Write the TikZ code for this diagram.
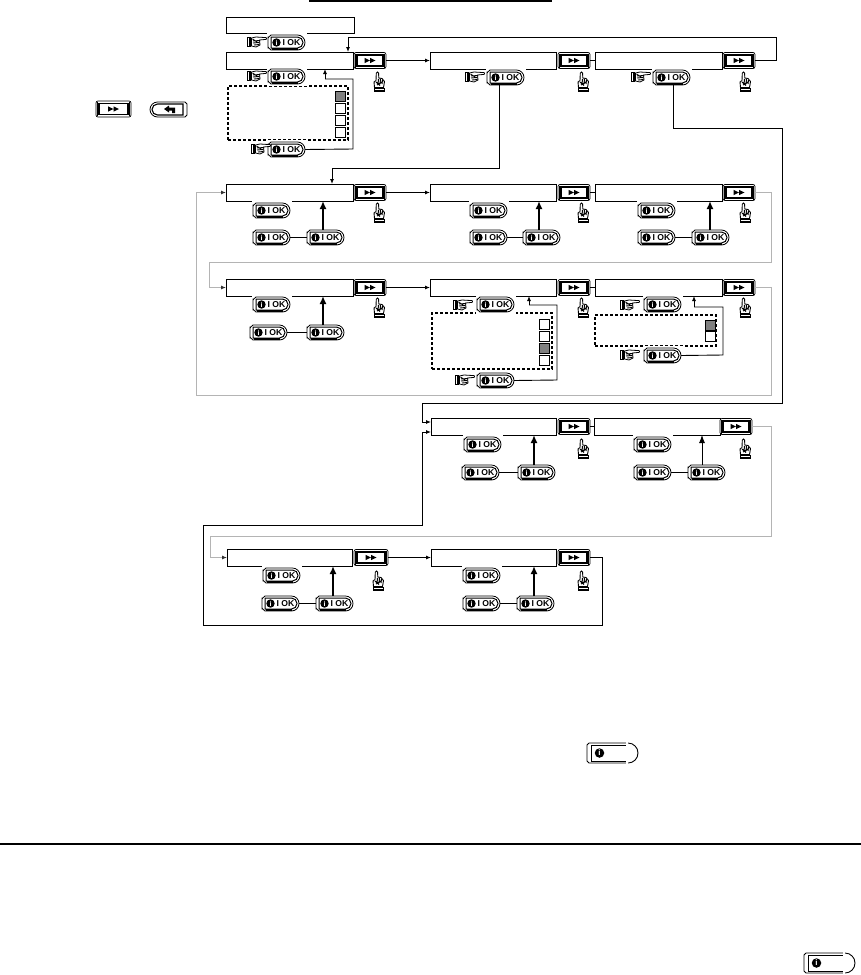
\documentclass[tikz,border=0pt]{standalone}
\usepackage{fontspec}
\setmainfont{Liberation Sans}
\usetikzlibrary{arrows.meta,calc}
\definecolor{greyline}{HTML}{B4B4B4}
\definecolor{tick}{HTML}{808080}
\tikzset{
  lcd/.style={draw=black,line width=.9pt,fill=white,inner sep=0pt,outer sep=0pt},
  btnshell/.style={inner sep=0pt,outer sep=0pt,minimum width=37pt,minimum height=15pt},
  ffshell/.style={inner sep=0pt,outer sep=0pt},
  infocirc/.style={circle,fill=black,text=white,inner sep=0pt,minimum size=8.4pt,font=\bfseries\fontsize{7}{7}\selectfont},
  oktext/.style={inner sep=0pt,font=\bfseries\fontsize{8.6}{9}\selectfont},
  flow/.style={line width=.9pt,-{Latex[length=5pt,width=4pt]}},
  flowgarrow/.style={line width=.9pt,draw=greyline,-{Latex[length=5pt,width=4pt,color=black!80]}},
  link/.style={line width=.9pt},
  thicklink/.style={line width=1.6pt},
  press/.style={line width=1.7pt,-{Latex[length=8pt,width=7pt]}},
  pressthin/.style={line width=.9pt,-{Latex[length=8pt,width=6pt]}},
  dashbox/.style={draw=black,line width=1.2pt,dash pattern=on 3pt off 2pt},
  tickbox/.style={draw=black,line width=.6pt,fill=white,inner sep=0pt,outer sep=0pt,minimum size=9.6pt},
  tickon/.style={tickbox,fill=tick},
}
% LCD box
\newcommand\lcdbox[5]{\node[lcd,minimum width={(#4-#2)*1pt},minimum height={(#5-#3)*1pt}] (#1) at ({(#2+#4)/2},{(#3+#5)/2}) {};}
% i | OK button: name, left, top
\newcommand\okb[3]{%
 \begin{scope}[shift={(#2+18.5,#3+7.5)}]
  \fill[white] (-20,-9.5) rectangle (20,9.5);
  \node[btnshell] (#1) at (0,0) {};
  \draw[line width=.8pt] (-15.5,-7.5) -- (11,-7.5) arc[start angle=-90,end angle=90,radius=7.5] -- (-15.5,7.5) to[out=180,in=90] (-18.5,5) -- (-18.5,-5) to[out=-90,in=180] (-15.5,-7.5);
  \draw[line width=1pt] (-15.5,-5.5) -- (11,-5.5) arc[start angle=-90,end angle=90,radius=5.5] -- (-15.5,5.5) -- cycle;
  \fill (-15,5) rectangle (11,7);
  \node[infocirc] (#1-i) at (-10,0) {i};
  \node[oktext] (#1-t) at (5,0) {I OK};
 \end{scope}}
% fast-forward button: name,x1,x2,ycentre
\newcommand\ffb[4]{%
 \node[ffshell,minimum width={(#3-#2)*1pt},minimum height=16pt,draw=black,line width=.7pt,rounded corners=2pt,fill=white] (#1) at ({(#2+#3)/2},#4) {};
 \draw[line width=1.1pt] (#2+3,#4-5.5) rectangle (#3-3,#4+5.5);
 \draw[line width=.5pt] (#2+1.5,#4-7) -- (#2+1.5,#4+7) (#3-1.5,#4-7) -- (#3-1.5,#4+7);
 \begin{scope}[shift={({(#2+#3)/2},#4)}]
  \fill (-5.5,-2.7) -- (0,0) -- (-5.5,2.7) -- cycle (0,-2.7) -- (5.5,0) -- (0,2.7) -- cycle;
 \end{scope}}
% hand pointing up: centre x, top y
\newcommand\handup[2]{%
 \begin{scope}[shift={(#1,#2)}]
  \fill (-5.5,16) rectangle (5.5,20);
  \fill[white] (-4.5,17.3) rectangle (4.5,18.2);
  \draw[line width=.9pt,fill=white] (-4.5,15.5) -- (-5,10) -- (-3,8.5) -- (-2.7,1.2) to[out=-90,in=180] (-1.5,0) to[out=0,in=-90] (-.4,1.2) -- (-.2,6) -- (3,6.5) -- (5.5,9.5) -- (4.5,15.5) -- cycle;
  \draw[line width=1pt] (-.5,7) -- (-1,12) (1.5,7) -- (1,12) (3.5,8) -- (3,12) (-3,10) -- (1,13.5) (-2,13) -- (3,10);
 \end{scope}}
% hand pointing right: left x, centre y
\newcommand\handright[2]{%
 \begin{scope}[shift={(#1,#2)}]
  \fill (0,-5) rectangle (4,5);
  \fill[white] (1.4,-4) rectangle (2.3,4);
  \draw[line width=.8pt,fill=white] (4.5,-4) -- (9,-5) -- (19,-4.4) to[out=0,in=0] (19,-2.6) -- (12.5,-2) -- (13,3) -- (9,5) -- (4.5,4) -- cycle;
  \draw[line width=.9pt] (6,-1) -- (12.5,-1.5) (6,1) -- (12.5,.5) (7,3) -- (12.5,2.5) (5.5,-3) -- (10,0);
 \end{scope}}
% wide info button: name,left,top
\newcommand\infob[3]{%
 \begin{scope}[shift={(#2,#3)}]
  \node[inner sep=0pt,outer sep=0pt,minimum width=51pt,minimum height=20pt] (#1) at (25.5,10) {};
  \draw[line width=.9pt] (2,0) -- (41,0) arc[start angle=-90,end angle=90,radius=10] -- (2,20) to[out=180,in=90] (0,18) -- (0,2) to[out=-90,in=180] (2,0);
  \draw[line width=.9pt] (40,2) -- (4.5,2) -- (4.5,18) -- (40,18);
  \fill[white] (39,-1) rectangle (41,3) (39,17) rectangle (41,21);
  \node[infocirc,minimum size=9.5pt,font=\bfseries\fontsize{8}{8}\selectfont] (#1-i) at (12.5,10) {i};
 \end{scope}}
\begin{document}
\begin{tikzpicture}[x=1pt,y=-1pt]
\useasboundingbox (0,0) rectangle (861,975);
\fill[white] (0,0) rectangle (861,975);
\fill (309,0) rectangle (552,2);
\draw[line width=2pt] (0,843.5) -- (861,843.5);

% legend buttons
\ffb{legendff}{96}{131}{109}
\begin{scope}[shift={(150,102)}]
 \node[inner sep=0pt,outer sep=0pt,minimum width=37pt,minimum height=15pt] (legendback) at (18.5,7.5) {};
 \draw[line width=.8pt] (7.5,0) -- (35,0) -- (37,2) -- (37,13) -- (35,15) -- (7.5,15) arc[start angle=90,end angle=270,radius=7.5];
 \draw[line width=1.1pt] (7.5,2) -- (33,2) -- (33,13) -- (7.5,13) arc[start angle=90,end angle=270,radius=5.5];
 \fill (14,7) -- (19,3.5) -- (19,5.5) -- (25,5.5) -- (25,11) -- (22,11) -- (22,8.5) -- (19,8.5) -- (19,10.5) -- cycle;
\end{scope}

% LCD boxes
\lcdbox{top}{226}{17}{354}{33}
\lcdbox{a1}{226}{52}{353}{69}
\lcdbox{a2}{430}{52}{556}{69}
\lcdbox{a3}{595}{52}{722}{69}
\lcdbox{b1}{226}{184}{353}{201}
\lcdbox{b2}{430}{184}{556}{201}
\lcdbox{b3}{595}{184}{722}{201}
\lcdbox{c1}{226}{279}{353}{296}
\lcdbox{c2}{430}{279}{556}{296}
\lcdbox{c3}{595}{279}{722}{296}
\lcdbox{d1}{431}{418}{556}{435}
\lcdbox{d2}{594}{418}{720}{435}
\lcdbox{e1}{227}{549}{352}{566}
\lcdbox{e2}{431}{549}{556}{566}

% dashed option panels
\node[dashbox,minimum width=120pt,minimum height=54pt,inner sep=0pt] (pa) at (288,113) {};
\node[dashbox,minimum width=120pt,minimum height=56pt,inner sep=0pt] (pc) at (492,341) {};
\node[dashbox,minimum width=121pt,minimum height=31pt,inner sep=0pt] (pd) at (655.5,330.5) {};
\node[tickon] (pa1) at (340,96) {};
\node[tickbox] (pa2) at (340,108) {};
\node[tickbox] (pa3) at (340,120) {};
\node[tickbox] (pa4) at (340,132) {};
\node[tickbox] (pc1) at (544,324.5) {};
\node[tickbox] (pc2) at (544,336) {};
\node[tickon] (pc3) at (544,348) {};
\node[tickbox] (pc4) at (544,360) {};
\node[tickon] (pd1) at (710,325) {};
\node[tickbox] (pd2) at (710,336.5) {};

% forward buttons and hands
\ffb{fa1}{354}{386}{60.5} \ffb{fa2}{558}{590}{60.5} \ffb{fa3}{723}{755}{60.5}
\ffb{fb1}{354}{386}{192.5} \ffb{fb2}{558}{590}{192.5} \ffb{fb3}{723}{755}{192.5}
\ffb{fc1}{354}{386}{287.5} \ffb{fc2}{558}{590}{287.5} \ffb{fc3}{723}{755}{287.5}
\ffb{fd1}{558}{590}{426.5} \ffb{fd2}{720}{752}{426.5}
\ffb{fe1}{354}{388}{557.5} \ffb{fe2}{558}{590}{557.5}
\foreach \hx in {379,583,745} {\handup{\hx}{72}\handup{\hx}{203}\handup{\hx}{298}}
\handup{583}{439}\handup{745}{439}
\handup{378}{571}\handup{583}{571}

% OK buttons
\okb{oktop}{268}{35}
\okb{oka1}{268}{69}
\okb{oka1b}{268}{142}
\okb{oka2}{487}{70}
\okb{oka3}{653}{70}
\okb{okb1}{253}{203}\okb{okb1l}{253}{230}\okb{okb1r}{307}{230}
\okb{okb2}{470}{203}\okb{okb2l}{470}{230}\okb{okb2r}{523}{230}
\okb{okb3}{638}{203}\okb{okb3l}{638}{230}\okb{okb3r}{692}{230}
\okb{okc1}{253}{297}\okb{okc1l}{250}{325}\okb{okc1r}{307}{325}
\okb{okc2}{477}{297}\okb{okc2b}{477}{373}
\okb{okc3}{644}{297}\okb{okc3b}{644}{348}
\okb{okd1}{464}{437}\okb{okd1l}{462}{465}\okb{okd1r}{518}{465}
\okb{okd2}{634}{437}\okb{okd2l}{634}{465}\okb{okd2r}{688}{465}
\okb{oke1}{263}{568}\okb{oke1l}{262}{596}\okb{oke1r}{316}{596}
\okb{oke2}{463}{568}\okb{oke2l}{463}{596}\okb{oke2r}{517}{596}

% right-pointing hands
\handright{247}{42}\handright{247}{76}\handright{251}{149}
\handright{465}{77}\handright{631}{77}
\handright{453}{305}\handright{455}{380}\handright{620}{305}\handright{620}{355}

\infob{info1}{587}{743}
\infob{info2}{804}{953}

% waypoints
\coordinate (w1) at (776,60.5);\coordinate (w2) at (776,37);\coordinate (w3) at (348,37);\coordinate (a1n) at (348,52);
\coordinate (w4) at (353,149);\coordinate (w5) at (353,79);\coordinate (w6) at (325,79);\coordinate (a1s) at (325,69);
\coordinate (w7) at (499,168);\coordinate (w8) at (332,168);\coordinate (b1n) at (332,184);
\coordinate (w9) at (673,128);\coordinate (w10) at (782,128);\coordinate (w11) at (782,403);\coordinate (w12) at (422,403);\coordinate (w13) at (422,422);\coordinate (d1w) at (431,422);
\coordinate (g1) at (771,192.5);\coordinate (g2) at (771,262);\coordinate (g3) at (209,262);\coordinate (g4) at (209,287.5);
\coordinate (g5) at (771,287.5);\coordinate (g6) at (771,395);\coordinate (g7) at (196,395);\coordinate (g8) at (196,192.5);
\coordinate (g9) at (771,426.5);\coordinate (g10) at (771,536);\coordinate (g11) at (210,536);\coordinate (g12) at (210,557.5);
\coordinate (k1) at (602,557.5);\coordinate (k2) at (602,625);\coordinate (k3) at (203,625);\coordinate (k4) at (203,525);\coordinate (k5) at (422,525);\coordinate (k6) at (422,432);\coordinate (d1w2) at (431,432);
\coordinate (w14) at (557,380);\coordinate (w15) at (557,305);\coordinate (w16) at (529,305);\coordinate (c2s) at (529,296);
\coordinate (w17) at (723,355);\coordinate (w18) at (723,307);\coordinate (w19) at (694,307);\coordinate (c3s) at (694,296);

% connectors between screens
\draw[flow] (fa1) -- (a2);
\draw[link] (fa2) -- (a3);
\draw[link] (fa3.east) -- (w1) -- (w2) -- (w3);
\draw[flow] (w3) -- (a1n);
\draw[link] (oka1b.east) -- (w4) -- (w5) -- (w6);
\draw[flow] (w6) -- (a1s);
\draw[link] (oka2.south -| w7) -- (w7) -- (w8);
\draw[flow] (w8) -- (b1n);
\draw[link] (oka3.south -| w9) -- (w9) -- (w10) -- (w11) -- (w12) -- (w13);
\draw[flow] (w13) -- (d1w);
\draw[flow] (fb1) -- (b2);
\draw[link] (fb2) -- (b3);
\draw[flow] (fc1) -- (c2);
\draw[link] (fc2) -- (c3);
\draw[link] (fd1) -- (d2);
\draw[flow] (fe1) -- (e2);
\draw[flowgarrow] (fb3.east) -- (g1) -- (g2) -- (g3) -- (g4) -- (c1.west);
\draw[flowgarrow] (fc3.east) -- (g5) -- (g6) -- (g7) -- (g8) -- (b1.west);
\draw[flowgarrow] (fd2.east) -- (g9) -- (g10) -- (g11) -- (g12) -- (e1.west);
\draw[link] (fe2.east) -- (k1) -- (k2) -- (k3) -- (k4) -- (k5) -- (k6);
\draw[flow] (k6) -- (d1w2);
\draw[link] (okc2b.east) -- (w14) -- (w15) -- (w16);
\draw[flow] (w16) -- (c2s);
\draw[link] (okc3b.east) -- (w17) -- (w18) -- (w19);
\draw[flow] (w19) -- (c3s);

% double-press links
\foreach \p/\t/\xa/\s in {okb1/b1/323/press,okb2/b2/539/press,okb3/b3/710/press,okc1/c1/323/press,okd1/d1/534/press,okd2/d2/702/pressthin,oke1/e1/333/press,oke2/e2/534/press}{
  \draw[\s] (\p r.north -| \xa,0) -- (\t.south -| \xa,0);
}
\draw[thicklink] (okb1l) -- (okb1r);
\draw[thicklink] (okb2l) -- (okb2r);
\draw[thicklink] (okb3l) -- (okb3r);
\draw[thicklink] (okc1l) -- (okc1r);
\draw[link] (okd1l) -- (okd1r);
\draw[link] (okd2l) -- (okd2r);
\draw[link] (oke1l) -- (oke1r);
\draw[link] (oke2l) -- (oke2r);
\end{tikzpicture}
\end{document}
